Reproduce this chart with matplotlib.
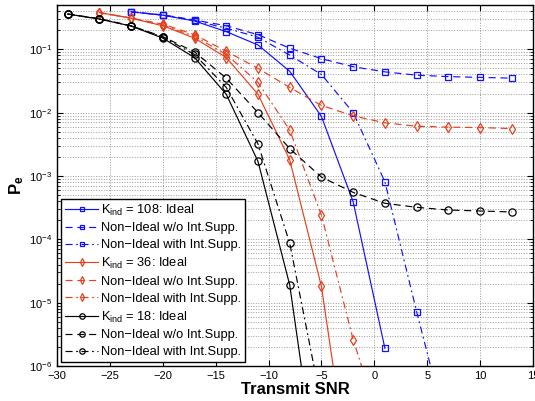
import matplotlib
matplotlib.use("Agg")
import matplotlib.pyplot as plt
from matplotlib.ticker import LogLocator, NullFormatter, FixedLocator

plt.rcParams["font.family"] = ["Liberation Sans", "DejaVu Sans"]
plt.rcParams["mathtext.fontset"] = "custom"
plt.rcParams["mathtext.rm"] = "Liberation Sans"
plt.rcParams["mathtext.it"] = "Liberation Sans:italic"
plt.rcParams["mathtext.bf"] = "Liberation Sans:bold"

# ── Data ─────────────────────────────────────────────────────────────────────
snr_blue  = [-23, -20, -17, -14, -11, -8, -5, -2, 1, 4, 7, 10, 13]
snr_red   = [-26, -23, -20, -17, -14, -11, -8, -5, -2, 1, 4, 7, 10, 13]
snr_black = [-29, -26, -23, -20, -17, -14, -11, -8, -5, -2, 1, 4, 7, 10, 13]

pe_108_ideal = [0.39, 0.345, 0.28, 0.19, 0.117, 0.045, 8.7e-3, 3.9e-4, 1.9e-6]
pe_108_wo    = [0.39, 0.35, 0.29, 0.235, 0.17, 0.104, 0.071, 0.053, 0.044,
                0.039, 0.037, 0.036, 0.035]
pe_108_with  = [0.39, 0.345, 0.285, 0.215, 0.155, 0.081, 0.040, 0.010,
                8.1e-4, 7.2e-6, 8e-8]

pe_36_ideal = [0.38, 0.31, 0.235, 0.15, 0.074, 0.0195, 1.8e-3, 1.8e-5, 7e-9]
pe_36_wo    = [0.38, 0.31, 0.25, 0.17, 0.093, 0.05, 0.025, 0.013, 8.9e-3,
               6.9e-3, 6.1e-3, 5.9e-3, 5.8e-3, 5.6e-3]
pe_36_with  = [0.38, 0.31, 0.24, 0.16, 0.083, 0.030, 5.3e-3, 2.4e-4, 2.6e-6, 7e-8]

pe_18_ideal = [0.36, 0.30, 0.233, 0.15, 0.074, 0.0195, 1.7e-3, 1.9e-5, 6e-9]
pe_18_wo    = [0.36, 0.305, 0.235, 0.158, 0.091, 0.035, 0.010, 2.7e-3, 9.6e-4,
               5.5e-4, 3.7e-4, 3.2e-4, 2.9e-4, 2.8e-4, 2.7e-4]
pe_18_with  = [0.36, 0.30, 0.234, 0.155, 0.083, 0.025, 3.2e-3, 8.7e-5, 2.5e-7]

NM = "Non\u2212Ideal"
labels = [
    r"K$_{\mathrm{ind}}$ = 108: Ideal", NM + " w/o Int.Supp.", NM + " with Int.Supp.",
    r"K$_{\mathrm{ind}}$ = 36: Ideal",  NM + " w/o Int.Supp.", NM + " with Int.Supp.",
    r"K$_{\mathrm{ind}}$ = 18: Ideal",  NM + " w/o Int.Supp.", NM + " with Int.Supp.",
]

BLUE  = "#1010ff"
RED   = "#e6401c"
BLACK = "#000000"

DASH    = (0, (6, 4))
DASHDOT = (0, (6, 3, 1.5, 3))

series = [
    (snr_blue,  pe_108_ideal, BLUE,  "s", "-"),
    (snr_blue,  pe_108_wo,    BLUE,  "s", DASH),
    (snr_blue,  pe_108_with,  BLUE,  "s", DASHDOT),
    (snr_red,   pe_36_ideal,  RED,   "d", "-"),
    (snr_red,   pe_36_wo,     RED,   "d", DASH),
    (snr_red,   pe_36_with,   RED,   "d", DASHDOT),
    (snr_black, pe_18_ideal,  BLACK, "o", "-"),
    (snr_black, pe_18_wo,     BLACK, "o", DASH),
    (snr_black, pe_18_with,   BLACK, "o", DASHDOT),
]
MS = {"o": 5.2, "s": 4.6, "d": 5.0}

# ── Plot ──────────────────────────────────────────────────────────────────────
fig = plt.figure(figsize=(5.35, 4.01), dpi=100)
ax = fig.add_axes([57 / 535, 1 - 366 / 401, 476 / 535, 361 / 401])

for (x, y, c, m, ls), lab in zip(series, labels):
    ax.semilogy(x[:len(y)], y, color=c, ls=ls, lw=0.85, marker=m, ms=MS[m],
                mfc="none", mec=c, mew=0.9, label=lab)

ax.set_xlim(-30, 15)
ax.set_ylim(1e-6, 0.5)
ax.xaxis.set_major_locator(FixedLocator(range(-30, 16, 5)))
ax.yaxis.set_major_locator(LogLocator(base=10, numticks=10))
ax.yaxis.set_minor_locator(LogLocator(base=10, subs=range(2, 10), numticks=20))
ax.yaxis.set_minor_formatter(NullFormatter())

ax.grid(True, which="major", ls=":", color="0.6", lw=0.7)
ax.grid(True, which="minor", axis="y", ls=":", color="0.6", lw=0.7)
ax.tick_params(which="both", direction="in", top=True, right=True, labelsize=8)
ax.tick_params(which="major", length=4)
ax.tick_params(which="minor", length=2)
for s in ax.spines.values():
    s.set_linewidth(1.0)

ax.set_xlabel("Transmit SNR", fontsize=12, fontweight="bold", labelpad=1)
ax.set_ylabel(r"$\mathbf{P_e}$", fontsize=12, labelpad=2)

leg = ax.legend(loc="lower left", fontsize=9.3, markerscale=0.75, handlelength=2.6,
                labelspacing=0.37, borderpad=0.3, handletextpad=0.2,
                borderaxespad=0.3, fancybox=False, framealpha=1, edgecolor="black")
leg.get_frame().set_linewidth(1.0)

fig.savefig("out.png", dpi=100, facecolor="white")
